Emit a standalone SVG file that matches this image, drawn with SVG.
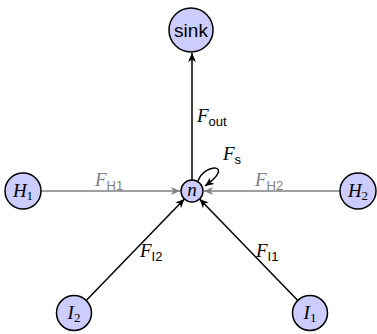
<svg xmlns="http://www.w3.org/2000/svg" width="377" height="334" viewBox="0 0 377 334">
<defs>
<marker id="ab" markerUnits="userSpaceOnUse" markerWidth="12" markerHeight="12" viewBox="-10 -6 12 12" refX="0" refY="0" orient="auto">
<path d="M0,0 L-9,-4 L-6.5,0 L-9,4 Z" fill="#000"/>
</marker>
<marker id="ag" markerUnits="userSpaceOnUse" markerWidth="12" markerHeight="12" viewBox="-10 -6 12 12" refX="0" refY="0" orient="auto">
<path d="M0,0 L-9,-4 L-6.5,0 L-9,4 Z" fill="#808080"/>
</marker>
</defs>
<style>
.node circle{fill:#ccccff;stroke:#000;stroke-width:1.5}
.m{font-family:"Liberation Serif","Times New Roman",serif;font-style:italic;font-size:19px}
.sub{font-family:"Liberation Sans",Arial,sans-serif;font-style:normal;font-size:13px}
.nsub{font-family:"Liberation Serif","Times New Roman",serif;font-style:normal;font-size:13px}
.sans{font-family:"Liberation Sans",Arial,sans-serif;font-size:19px}
.e{fill:none;stroke:#000;stroke-width:1.5}
.eg{fill:none;stroke:#808080;stroke-width:1.5}
.gray{fill:#808080}
</style>
<g id="connectors">
<line class="e" x1="192" y1="180" x2="192" y2="53" marker-end="url(#ab)"/>
<line class="eg" x1="41" y1="191" x2="180" y2="191" marker-end="url(#ag)"/>
<line class="eg" x1="340" y1="191" x2="204" y2="191" marker-end="url(#ag)"/>
<line class="e" x1="86.2" y1="300.4" x2="184.4" y2="198.9" marker-end="url(#ab)"/>
<line class="e" x1="297.8" y1="300.4" x2="199.6" y2="198.9" marker-end="url(#ab)"/>
<path class="e" d="M198,181 C205,162 236,164 205,186" marker-end="url(#ab)"/>
<text class="m" x="197" y="122">F<tspan class="sub" dy="4">out</tspan></text>
<text class="m" x="223" y="160">F<tspan class="sub" dy="4">s</tspan></text>
<text class="m gray" x="95" y="186">F<tspan class="sub" dy="4">H1</tspan></text>
<text class="m gray" x="255" y="186">F<tspan class="sub" dy="4">H2</tspan></text>
<text class="m" x="140" y="257">F<tspan class="sub" dy="4">I2</tspan></text>
<text class="m" x="256" y="257">F<tspan class="sub" dy="4">I1</tspan></text>
</g>
<g id="sink" class="node"><circle cx="191" cy="30" r="22"/><text class="sans" x="191" y="37" text-anchor="middle">sink</text></g>
<g id="n" class="node"><circle cx="192" cy="191" r="11"/><text class="m" x="192" y="196" text-anchor="middle">n</text></g>
<g id="H1" class="node"><circle cx="23" cy="191" r="18"/><text class="m" x="23" y="197" text-anchor="middle">H<tspan class="nsub" dy="3">1</tspan></text></g>
<g id="H2" class="node"><circle cx="358" cy="191" r="18"/><text class="m" x="358" y="197" text-anchor="middle">H<tspan class="nsub" dy="3">2</tspan></text></g>
<g id="I2" class="node"><circle cx="74" cy="313" r="17.5"/><text class="m" x="74" y="319" text-anchor="middle">I<tspan class="nsub" dy="3">2</tspan></text></g>
<g id="I1" class="node"><circle cx="310" cy="313" r="17.5"/><text class="m" x="310" y="319" text-anchor="middle">I<tspan class="nsub" dy="3">1</tspan></text></g>
</svg>
